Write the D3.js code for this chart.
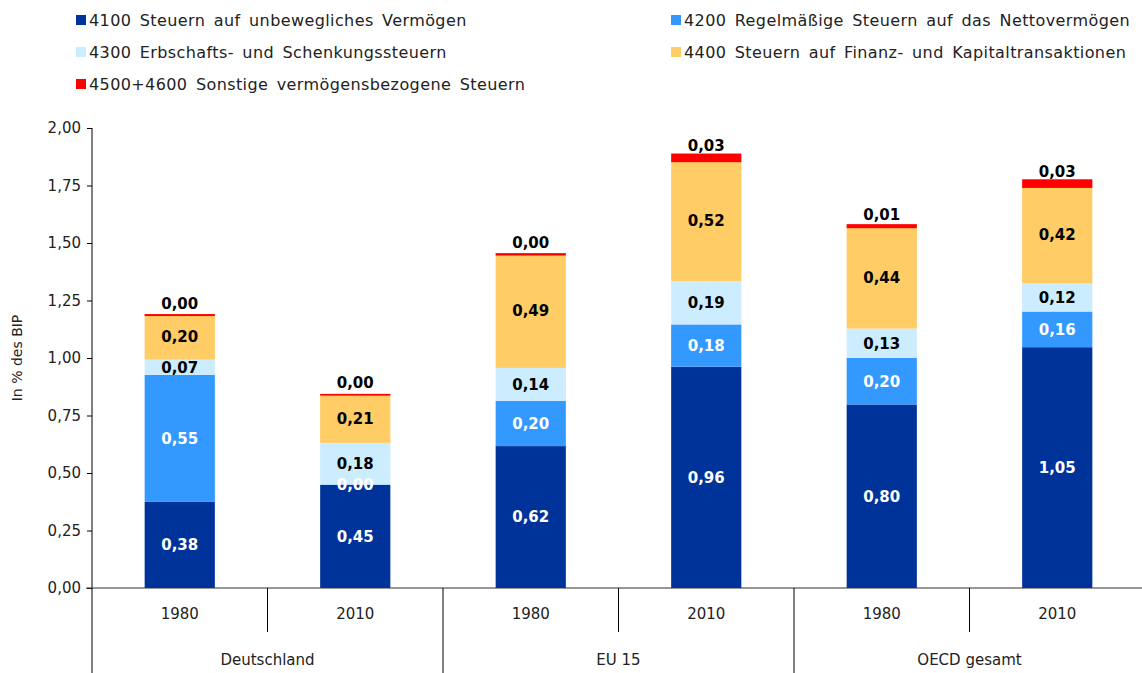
<!DOCTYPE html>
<html><head><meta charset="utf-8">
<script src="https://cdn.jsdelivr.net/npm/d3@7"></script>
<style>body{margin:0;background:#fff;} text{font-family:"DejaVu Sans",sans-serif;}</style>
</head><body>
<svg id="chart" width="1142" height="673"></svg>
<script>
const groups = ["Deutschland", "EU 15", "OECD gesamt"];
const years = ["1980", "2010"];
const seriesNames = [
  "4100 Steuern auf unbewegliches Vermögen",
  "4200 Regelmäßige Steuern auf das Nettovermögen",
  "4300 Erbschafts- und Schenkungssteuern",
  "4400 Steuern auf Finanz- und Kapitaltransaktionen",
  "4500+4600 Sonstige vermögensbezogene Steuern"
];
const seriesColors = ["#003399", "#3399FF", "#CCECFF", "#FFCC66", "#FF0000"];
// values per bar (Deutschland 1980, Deutschland 2010, EU15 1980, EU15 2010, OECD 1980, OECD 2010)
const s4100 = [0.376, 0.448, 0.617, 0.962, 0.798, 1.047];
const s4200 = [0.551, 0.002, 0.196, 0.184, 0.203, 0.155];
const s4300 = [0.066, 0.181, 0.144, 0.189, 0.127, 0.122];
const s4400 = [0.196, 0.212, 0.495, 0.523, 0.443, 0.422];
const s4500 = [0.002, 0.001, 0.004, 0.031, 0.011, 0.031];
const yTicks = [0, 0.25, 0.5, 0.75, 1.0, 1.25, 1.5, 1.75, 2.0];

const series = [s4100, s4200, s4300, s4400, s4500];
const bars = [];
groups.forEach((g, gi) => years.forEach((yr, yi) => bars.push({key: g + "|" + yr, group: g, year: yr, idx: gi * 2 + yi})));

const svg = d3.select("#chart");
const fmt = v => d3.format(".2f")(v).replace(".", ",");

const x0 = 92, x1 = 1145, yTop = 128, yBot = 588;
const x = d3.scaleBand().domain(bars.map(b => b.key)).range([x0, x1]).paddingInner(0).paddingOuter(0);
const y = d3.scaleLinear().domain([0, 2]).range([yBot, yTop]);
const barW = x.bandwidth() * 0.4;

const table = bars.map(b => {
  const o = {key: b.key};
  series.forEach((s, si) => o["s" + si] = s[b.idx]);
  return o;
});
const stack = d3.stack().keys(series.map((s, si) => "s" + si))(table);

stack.forEach((layer, si) => {
  svg.append("g").selectAll("rect").data(layer).join("rect")
    .attr("x", d => x(d.data.key) + (x.bandwidth() - barW) / 2)
    .attr("width", barW)
    .attr("y", d => y(d[1]))
    .attr("height", d => Math.max(0, y(d[0]) - y(d[1])) + (si === 4 ? 1.5 : 0))
    .attr("fill", seriesColors[si]);
});

stack.forEach((layer, si) => {
  svg.append("g").selectAll("text").data(layer).join("text")
    .attr("x", d => x(d.data.key) + x.bandwidth() / 2)
    .attr("y", d => (si === 4 ? (y(d[0]) + y(d[1])) / 2 - 11 : (y(d[0]) + y(d[1])) / 2))
    .attr("dy", "0.36em")
    .attr("text-anchor", "middle")
    .attr("font-size", 15)
    .attr("font-weight", "bold")
    .attr("fill", si < 2 ? "#ffffff" : "#000000")
    .text(d => fmt(d[1] - d[0]));
});

const yAxis = d3.axisLeft(y).tickValues(yTicks).tickSize(5).tickFormat(fmt);
const ya = svg.append("g").attr("transform", `translate(${x0},0)`).call(yAxis);
ya.select(".domain").attr("stroke", "#000").attr("d", `M0,${yTop}V${yBot}`);
ya.selectAll(".tick line").attr("stroke", "#000");
ya.selectAll(".tick text").attr("font-size", 15).attr("fill", "#222").attr("x", -11)
  .style("font-family", '"DejaVu Sans",sans-serif');

svg.append("text").attr("transform", `translate(22,${(yTop + yBot) / 2}) rotate(-90)`)
  .attr("text-anchor", "middle").attr("font-size", 14).attr("fill", "#222").text("In % des BIP");

svg.append("line").attr("x1", x0 - 6).attr("x2", x1).attr("y1", yBot).attr("y2", yBot).attr("stroke", "#333").attr("stroke-width", 1.2);
bars.forEach((b, i) => {
  const xl = x(b.key);
  if (i % 2 === 1) {
    svg.append("line").attr("x1", xl).attr("x2", xl).attr("y1", yBot).attr("y2", 632).attr("stroke", "#000");
  }
});
groups.forEach((g, gi) => {
  const xl = x(bars[gi * 2].key);
  svg.append("line").attr("x1", xl).attr("x2", xl).attr("y1", yBot).attr("y2", 673).attr("stroke", "#000");
});
svg.append("line").attr("x1", x1 - 1).attr("x2", x1 - 1).attr("y1", yBot).attr("y2", 673).attr("stroke", "#000");

svg.append("g").selectAll("text").data(bars).join("text")
  .attr("x", b => x(b.key) + x.bandwidth() / 2).attr("y", 614).attr("dy", "0.36em")
  .attr("text-anchor", "middle").attr("font-size", 15).attr("fill", "#222").text(b => b.year);
svg.append("g").selectAll("text").data(groups).join("text")
  .attr("x", (g, gi) => x(bars[gi * 2].key) + x.bandwidth()).attr("y", 660).attr("dy", "0.36em")
  .attr("text-anchor", "middle").attr("font-size", 15).attr("fill", "#222").text(g => g);

const legPos = [[76, 20], [671, 20], [76, 52], [671, 52], [76, 84]];
seriesNames.forEach((n, i) => {
  const [lx, ly] = legPos[i];
  svg.append("rect").attr("x", lx).attr("y", ly - 5).attr("width", 10).attr("height", 10).attr("fill", seriesColors[i]);
  svg.append("text").attr("x", lx + 13).attr("y", ly).attr("dy", "0.36em")
    .attr("font-size", 16).attr("fill", "#222")
    .style("letter-spacing", "0.4px").style("word-spacing", "3px").text(n);
});
</script>
</body></html>
